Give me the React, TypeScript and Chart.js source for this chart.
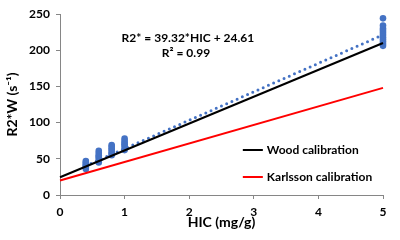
import React, { useEffect, useRef } from "react";
import { Chart, registerables } from "chart.js";

Chart.register(...registerables);

// HIC levels (mg/g) of the measured clusters
const hicLevels = [0.4, 0.6, 0.8, 1.0, 5.0];
// Measured R2*W values (s^-1) per HIC level
const r2At04 = [36, 38, 40, 41, 43, 45, 47];
const r2At06 = [45, 48, 51, 53, 55, 58, 61];
const r2At08 = [55, 57, 59, 62, 64, 67, 69];
const r2At10 = [62, 65, 68, 70, 72, 75, 78];
const r2At50 = [206, 209, 212, 215, 218, 221, 224, 227, 230, 234, 244];
const clusters = [r2At04, r2At06, r2At08, r2At10, r2At50];

// Linear fit shown in the chart
const fitSlope = 39.32;
const fitIntercept = 24.61;
const fitRange = [0.4, 5.0];

// Calibration lines (endpoints at HIC 0 and 5)
const calibHic = [0, 5];
const woodR2 = [24.5, 210];
const karlssonR2 = [20, 148];

const xTicks = [0, 1, 2, 3, 4, 5];
const yTicks = [0, 50, 100, 150, 200, 250];

const equationText = "R2* = 39.32*HIC + 24.61";
const rSquaredText = "R² = 0.99";
const legendLabels = ["Wood calibration", "Karlsson calibration"];
const legendColors = ["#000000", "#FF0000"];

const FONT = "Lato, 'Open Sans', sans-serif";

export default function App() {
  const ref = useRef<HTMLCanvasElement | null>(null);

  useEffect(() => {
    if (!ref.current) return;
    const measured: { x: number; y: number }[] = [];
    clusters.forEach((vals, i) => vals.forEach((v) => measured.push({ x: hicLevels[i], y: v })));
    const fit = fitRange.map((h) => ({ x: h, y: fitSlope * h + fitIntercept }));
    const wood = calibHic.map((h, i) => ({ x: h, y: woodR2[i] }));
    const karl = calibHic.map((h, i) => ({ x: h, y: karlssonR2[i] }));

    const overlay = {
      id: "overlay",
      afterDraw(chart: any) {
        const { ctx, scales } = chart;
        const x = scales.x;
        const y = scales.y;
        ctx.save();
        ctx.fillStyle = "#000";
        ctx.font = `bold 12px ${FONT}`;
        ctx.textAlign = "center";
        ctx.textBaseline = "middle";
        ctx.fillText(equationText, x.getPixelForValue(1.98), y.getPixelForValue(216));
        ctx.fillText(rSquaredText, x.getPixelForValue(1.95), y.getPixelForValue(196));
        // legend
        const lx0 = x.getPixelForValue(2.83);
        const lx1 = x.getPixelForValue(3.14);
        const legendY = [62, 25];
        legendLabels.forEach((label, i) => {
          const py = Math.round(y.getPixelForValue(legendY[i]));
          ctx.strokeStyle = legendColors[i];
          ctx.lineWidth = 2;
          ctx.beginPath();
          ctx.moveTo(lx0, py);
          ctx.lineTo(lx1, py);
          ctx.stroke();
          ctx.textAlign = "left";
          ctx.fillText(label, lx1 + 4, py);
        });
        ctx.restore();
      },
    };

    const axisColor = "#868686";
    const chart = new Chart(ref.current, {
      type: "scatter",
      data: {
        datasets: [
          {
            label: "Wood calibration",
            data: wood,
            showLine: true,
            borderColor: "#000000",
            borderWidth: 2,
            pointRadius: 0,
            clip: false,
          },
          {
            label: "Karlsson calibration",
            data: karl,
            showLine: true,
            borderColor: "#FF0000",
            borderWidth: 2,
            pointRadius: 0,
            clip: false,
          },
          {
            label: "Fit",
            data: fit,
            showLine: true,
            borderColor: "#4472C4",
            borderWidth: 3,
            borderDash: [0, 5.7],
            borderCapStyle: "round",
            pointRadius: 0,
            clip: false,
          },
          {
            label: "Measured",
            data: measured,
            backgroundColor: "#4472C4",
            borderWidth: 0,
            pointRadius: 3.3,
            clip: false,
          },
        ],
      },
      options: {
        responsive: false,
        animation: false,
        devicePixelRatio: 1,
        layout: { padding: { top: 14, right: 17, left: 0, bottom: 0 } },
        plugins: { legend: { display: false }, tooltip: { enabled: false } },
        scales: {
          x: {
            type: "linear",
            min: 0,
            max: 5,
            afterFit: (s: any) => {
              s.height = 45;
            },
            afterBuildTicks: (s: any) => {
              s.ticks = xTicks.map((v) => ({ value: v }));
            },
            ticks: {
              color: "#000",
              font: { family: FONT, size: 12, weight: "bold" },
              padding: 6,
              maxRotation: 0,
            },
            grid: { drawOnChartArea: false, color: axisColor, tickLength: 4 },
            border: { color: axisColor, width: 1 },
            title: {
              display: true,
              text: "HIC (mg/g)",
              color: "#000",
              font: { family: FONT, size: 14, weight: "bold" },
              padding: { top: 0, bottom: 9 },
            },
          },
          y: {
            type: "linear",
            min: 0,
            max: 250,
            afterFit: (s: any) => {
              s.width = 60;
            },
            afterBuildTicks: (s: any) => {
              s.ticks = yTicks.map((v) => ({ value: v }));
            },
            ticks: {
              color: "#000",
              font: { family: FONT, size: 12, weight: "bold" },
              padding: 6,
            },
            grid: { drawOnChartArea: false, color: axisColor, tickLength: 4 },
            border: { color: axisColor, width: 1 },
            title: {
              display: true,
              text: "R2*W (s⁻¹)",
              color: "#000",
              font: { family: FONT, size: 14, weight: "bold" },
              padding: { top: 4, bottom: 0 },
            },
          },
        },
      },
      plugins: [overlay],
    } as any);
    return () => chart.destroy();
  }, []);

  return (
    <div style={{ position: "absolute", left: 0, top: 0, width: 400, height: 240, background: "#fff" }}>
      <canvas ref={ref} width={400} height={240} style={{ display: "block" }} />
    </div>
  );
}
